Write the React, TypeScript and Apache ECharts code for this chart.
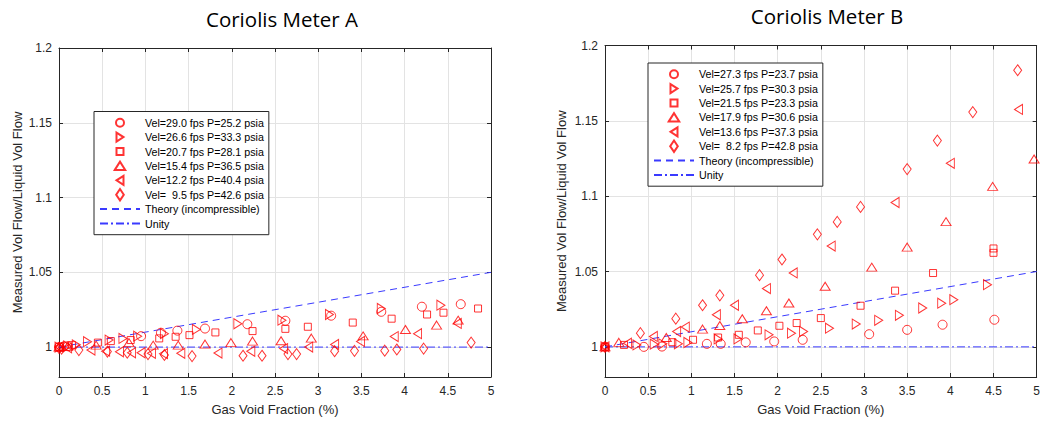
import React, { useEffect, useRef } from "react";
import * as echarts from "echarts";

// ---------- data ----------
const X_TICKS = [0, 0.5, 1, 1.5, 2, 2.5, 3, 3.5, 4, 4.5, 5];
const Y_TICKS = [1, 1.05, 1.1, 1.15, 1.2];

const TITLE_A = "Coriolis Meter A";
const TITLE_B = "Coriolis Meter B";
const X_NAME = "Gas Void Fraction (%)";
const Y_NAME = "Measured Vol Flow/Liquid Vol Flow";
const THEORY_NAME = "Theory (incompressible)";
const UNITY_NAME = "Unity";

const NAMES_A = [
  "Vel=29.0 fps P=25.2 psia",
  "Vel=26.6 fps P=33.3 psia",
  "Vel=20.7 fps P=28.1 psia",
  "Vel=15.4 fps P=36.5 psia",
  "Vel=12.2 fps P=40.4 psia",
  "Vel=  9.5 fps P=42.6 psia",
];
const NAMES_B = [
  "Vel=27.3 fps P=23.7 psia",
  "Vel=25.7 fps P=30.3 psia",
  "Vel=21.5 fps P=23.3 psia",
  "Vel=17.9 fps P=30.6 psia",
  "Vel=13.6 fps P=37.3 psia",
  "Vel=  8.2 fps P=42.8 psia",
];

// Meter A
const A_VEL29 = [[0, 1.0], [0.05, 1.0003], [0.1, 1.0006], [0.95, 1.0073], [1.18, 1.0096], [1.37, 1.011], [1.69, 1.0124], [2.18, 1.0153], [2.62, 1.0176], [3.15, 1.021], [3.73, 1.0236], [4.2, 1.027], [4.65, 1.0287]];
const A_VEL27 = [[0, 1.0], [0.1, 1.0008], [0.2, 1.0015], [0.33, 1.0036], [0.58, 1.0047], [0.74, 1.0058], [0.91, 1.0073], [1.22, 1.009], [1.59, 1.0118], [2.07, 1.0156], [2.58, 1.018], [3.13, 1.0218], [3.73, 1.0258], [4.42, 1.028]];
const A_VEL21 = [[0, 1.0], [0.15, 1.0013], [0.45, 1.003], [0.6, 1.004], [0.83, 1.0047], [1.16, 1.0058], [1.35, 1.0069], [1.51, 1.008], [1.81, 1.0098], [2.24, 1.0107], [2.62, 1.0122], [2.88, 1.0136], [3.4, 1.0164], [3.85, 1.019], [4.26, 1.0218], [4.45, 1.023], [4.85, 1.0258]];
const A_VEL15 = [[0, 1.0], [0.1, 1.0005], [0.43, 1.0013], [0.81, 1.003], [1.09, 1.0013], [1.38, 1.0013], [1.69, 1.002], [1.99, 1.003], [2.24, 1.004], [2.57, 1.0042], [2.92, 1.006], [3.52, 1.0075], [4.01, 1.0118], [4.37, 1.0147], [4.62, 1.018]];
const A_VEL12 = [[0, 1.0], [0.1, 0.9995], [0.37, 0.998], [0.54, 0.9973], [0.7, 0.9969], [0.84, 0.9962], [0.95, 0.9962], [1.07, 0.9958], [1.21, 0.9956], [1.41, 0.9958], [1.84, 0.996], [2.22, 0.9972], [2.6, 0.999], [2.89, 1.0], [3.19, 1.0018], [3.49, 1.0038], [3.88, 1.007], [4.15, 1.009], [4.61, 1.0158]];
const A_VEL9 = [[0, 0.9995], [0.03, 0.999], [0.23, 0.998], [0.56, 0.997], [0.79, 0.9962], [1.03, 0.9953], [1.22, 0.9947], [1.54, 0.994], [2.13, 0.9942], [2.35, 0.9942], [2.65, 0.9953], [2.75, 0.9953], [3.19, 0.9973], [3.42, 0.9975], [3.77, 0.9976], [3.91, 0.9984], [4.22, 0.999], [4.77, 1.003]];

// Meter B
const B_VEL27 = [[0, 1.0], [0.45, 1.0], [0.66, 1.0002], [1.18, 1.002], [1.34, 1.002], [1.63, 1.003], [1.96, 1.0036], [2.29, 1.0047], [3.06, 1.0084], [3.5, 1.0113], [3.91, 1.0147], [4.51, 1.018]];
const B_VEL26 = [[0, 1.0], [0.37, 1.0013], [0.57, 1.0018], [0.67, 1.002], [0.85, 1.002], [0.96, 1.0029], [1.31, 1.0053], [1.54, 1.0053], [1.9, 1.008], [2.16, 1.0091], [2.3, 1.0102], [2.6, 1.0124], [2.91, 1.0151], [3.17, 1.0176], [3.41, 1.0209], [3.68, 1.0258], [3.9, 1.029], [4.04, 1.0313], [4.43, 1.0413]];
const B_VEL22 = [[0, 1.0], [0.22, 1.0013], [0.78, 1.0031], [1.02, 1.0047], [1.31, 1.0062], [1.55, 1.008], [1.77, 1.0109], [2.02, 1.014], [2.22, 1.0158], [2.5, 1.0191], [2.96, 1.0273], [3.36, 1.0373], [3.8, 1.049], [4.5, 1.0624], [4.5, 1.0653]];
const B_VEL18 = [[0, 1.0], [0.16, 1.003], [0.71, 1.0062], [1.13, 1.0118], [1.33, 1.0142], [1.59, 1.0187], [1.87, 1.024], [2.13, 1.0291], [2.55, 1.0402], [3.09, 1.0529], [3.5, 1.0662], [3.95, 1.0831], [4.49, 1.1065], [4.97, 1.1247]];
const B_VEL14 = [[0, 1.0], [0.26, 1.0024], [0.56, 1.0069], [0.83, 1.0102], [0.93, 1.0131], [1.29, 1.0213], [1.5, 1.0276], [1.87, 1.0387], [2.18, 1.0491], [2.62, 1.0669], [3.36, 1.0958], [4.0, 1.1218], [4.79, 1.1576]];
const B_VEL8 = [[0, 1.0], [0.41, 1.0091], [0.82, 1.0187], [1.13, 1.0276], [1.33, 1.0342], [1.79, 1.0476], [2.05, 1.058], [2.46, 1.0747], [2.69, 1.0829], [2.96, 1.0929], [3.5, 1.118], [3.85, 1.1369], [4.26, 1.1558], [4.78, 1.1836]];

const THEORY_LINE = [[0, 1.0], [5, 1.05]];
const UNITY_LINE = [[0, 1.0], [5, 1.0]];

const SERIES_A = [A_VEL29, A_VEL27, A_VEL21, A_VEL15, A_VEL12, A_VEL9];
const SERIES_B = [B_VEL27, B_VEL26, B_VEL22, B_VEL18, B_VEL14, B_VEL8];

// ---------- styles ----------
const RED = "#ff0000";
const BLUE = "#3a3aff";
const AXIS_COLOR = "#262626";
const SANS = "'Liberation Sans', Arial, sans-serif";
const MARKERS = [
  { symbol: "circle", size: 9, rotate: 0 },
  { symbol: "triangle", size: [10, 8], rotate: -90 },
  { symbol: "rect", size: 7, rotate: 0 },
  { symbol: "triangle", size: [10, 8], rotate: 0 },
  { symbol: "triangle", size: [10, 8], rotate: 90 },
  { symbol: "diamond", size: [8, 11], rotate: 0 },
];
// legend icons drawn in a padded 12x12 box (leading moves fix the bounding box)
const PAD = "M0,0M12,12";
const LEGEND_ICONS = [
  `path://${PAD}M10,6A4,4 0 1 1 2,6A4,4 0 1 1 10,6Z`,
  `path://${PAD}M2.5,1.5L9.5,6L2.5,10.5Z`,
  `path://${PAD}M2.5,2.5L9.5,2.5L9.5,9.5L2.5,9.5Z`,
  `path://${PAD}M0.8,10L6,1.8L11.2,10Z`,
  `path://${PAD}M9.5,1.5L2.5,6L9.5,10.5Z`,
  `path://${PAD}M6,0.3L9.8,6L6,11.7L2.2,6Z`,
];

function mainXAxis(gridIndex: number) {
  return {
    type: "value",
    gridIndex,
    min: 0,
    max: 5,
    interval: 0.5,
    name: X_NAME,
    nameLocation: "middle",
    nameGap: 26,
    nameTextStyle: { fontFamily: SANS, fontSize: 13, color: AXIS_COLOR },
    axisLine: { show: true, onZero: false, lineStyle: { color: AXIS_COLOR, width: 1 } },
    axisTick: { show: true, inside: true, length: 4, customValues: X_TICKS, lineStyle: { color: AXIS_COLOR } },
    axisLabel: { fontFamily: SANS, fontSize: 12, color: AXIS_COLOR, margin: 8, customValues: X_TICKS },
    splitLine: { show: true, lineStyle: { color: "#e3e3e3", width: 1 } },
  };
}
function topXAxis(gridIndex: number) {
  return {
    type: "value",
    gridIndex,
    position: "top",
    min: 0,
    max: 5,
    interval: 0.5,
    axisLine: { show: true, onZero: false, lineStyle: { color: AXIS_COLOR, width: 1 } },
    axisTick: { show: true, inside: true, length: 4, customValues: X_TICKS, lineStyle: { color: AXIS_COLOR } },
    axisLabel: { show: false },
    splitLine: { show: false },
  };
}
function mainYAxis(gridIndex: number, nameGap: number) {
  return {
    type: "value",
    gridIndex,
    min: 0.98,
    max: 1.2,
    name: Y_NAME,
    nameLocation: "middle",
    nameGap,
    nameTextStyle: { fontFamily: SANS, fontSize: 13, color: AXIS_COLOR },
    axisLine: { show: true, onZero: false, lineStyle: { color: AXIS_COLOR, width: 1 } },
    axisTick: { show: true, inside: true, length: 4, customValues: Y_TICKS, lineStyle: { color: AXIS_COLOR } },
    axisLabel: { fontFamily: SANS, fontSize: 12, color: AXIS_COLOR, margin: 7, customValues: Y_TICKS },
    splitLine: { show: true, lineStyle: { color: "#e3e3e3", width: 1 } },
  };
}
function rightYAxis(gridIndex: number) {
  return {
    type: "value",
    gridIndex,
    position: "right",
    min: 0.98,
    max: 1.2,
    axisLine: { show: true, onZero: false, lineStyle: { color: AXIS_COLOR, width: 1 } },
    axisTick: { show: true, inside: true, length: 4, customValues: Y_TICKS, lineStyle: { color: AXIS_COLOR } },
    axisLabel: { show: false },
    splitLine: { show: false },
  };
}

function buildSeries(names: string[], sets: number[][][], axisIdx: number) {
  const out: any[] = sets.map((d, i) => ({
    type: "scatter",
    name: names[i],
    xAxisIndex: axisIdx,
    yAxisIndex: axisIdx,
    data: d,
    symbol: MARKERS[i].symbol,
    symbolSize: MARKERS[i].size,
    symbolRotate: MARKERS[i].rotate,
    itemStyle: { color: "rgba(255,255,255,0)", borderColor: RED, borderWidth: 1 },
    emphasis: { disabled: true },
    z: 3,
  }));
  out.push({
    type: "line",
    name: THEORY_NAME,
    xAxisIndex: axisIdx,
    yAxisIndex: axisIdx,
    data: THEORY_LINE,
    symbol: "none",
    lineStyle: { color: BLUE, width: 1, type: [7, 5] },
    itemStyle: { color: BLUE },
    emphasis: { disabled: true },
    z: 2,
  });
  out.push({
    type: "line",
    name: UNITY_NAME,
    xAxisIndex: axisIdx,
    yAxisIndex: axisIdx,
    data: UNITY_LINE,
    symbol: "none",
    lineStyle: { color: BLUE, width: 1, type: [8, 3, 2, 3] },
    itemStyle: { color: BLUE },
    emphasis: { disabled: true },
    z: 2,
  });
  return out;
}

const HIDDEN_SYMBOL = { color: "rgba(0,0,0,0)", borderColor: "rgba(0,0,0,0)", borderWidth: 0 };

function legend(names: string[], left: number, top: number) {
  return {
    data: [
      ...names.map((n, i) => ({ name: n, icon: LEGEND_ICONS[i] })),
      { name: THEORY_NAME, itemStyle: HIDDEN_SYMBOL },
      { name: UNITY_NAME, itemStyle: HIDDEN_SYMBOL },
    ],
    orient: "vertical",
    left,
    top,
    itemWidth: 40,
    itemHeight: 12,
    itemGap: 0,
    symbolKeepAspect: true,
    selectedMode: false,
    backgroundColor: "#ffffff",
    borderColor: AXIS_COLOR,
    borderWidth: 1,
    borderRadius: 0,
    padding: [4, 5, 4, 5],
    textStyle: { fontFamily: SANS, fontSize: 10.7, lineHeight: 14.4, color: "#000" },
  };
}

const TITLE_STYLE = { fontFamily: "'Open Sans', sans-serif", fontSize: 20.5, fontWeight: "normal", color: "#000" };

export default function App() {
  const ref = useRef<HTMLDivElement>(null);
  useEffect(() => {
    document.body.style.margin = "0";
    const chart = echarts.init(ref.current!, undefined, { renderer: "svg" });
    chart.setOption({
      animation: false,
      backgroundColor: "#ffffff",
      title: [
        { text: TITLE_A, left: 277, top: 3, textAlign: "center", textStyle: TITLE_STYLE },
        { text: TITLE_B, left: 822, top: 0, textAlign: "center", textStyle: TITLE_STYLE },
      ],
      legend: [legend(NAMES_A, 94, 111.5), legend(NAMES_B, 648, 63)],
      grid: [
        { left: 59, top: 48, width: 432, height: 329 },
        { left: 605, top: 45.5, width: 435, height: 332 },
      ],
      xAxis: [mainXAxis(0), mainXAxis(1), topXAxis(0), topXAxis(1)],
      yAxis: [mainYAxis(0, 35), mainYAxis(1, 37), rightYAxis(0), rightYAxis(1)],
      series: [...buildSeries(NAMES_A, SERIES_A, 0), ...buildSeries(NAMES_B, SERIES_B, 1)],
    });
    return () => chart.dispose();
  }, []);
  return <div ref={ref} style={{ width: 1043, height: 421 }} />;
}
